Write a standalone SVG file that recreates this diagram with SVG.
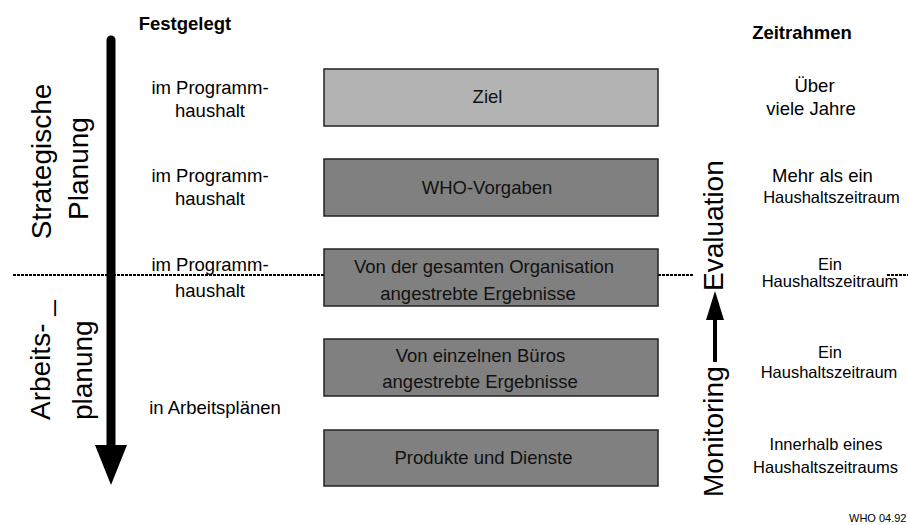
<svg xmlns="http://www.w3.org/2000/svg" width="908" height="525" viewBox="0 0 908 525">
<style>
text{font-family:"Liberation Sans",Arial,sans-serif;fill:#000}
.t{font-size:18.5px;text-anchor:middle}
.s{font-size:16.5px;text-anchor:middle}
.h{font-size:18.5px;font-weight:bold;text-anchor:middle}
.big{font-size:28px}
.box{stroke:#222;stroke-width:1.5}
.light{fill:#b3b3b3}
.dark{fill:#808080}
.bt{font-size:18.5px;text-anchor:middle;fill:#111}
.dash{stroke:#000;stroke-width:1.8;stroke-dasharray:3 1;fill:none}
</style>
<rect width="908" height="525" fill="#fff"/>
<g id="connectors">
<path class="dash" d="M13 275H324M658 275H694M887 275H908"/>
<line x1="111" y1="40" x2="111" y2="447" stroke="#000" stroke-width="9" stroke-linecap="round"/>
<polygon points="95,445 127,445 111,485" fill="#000"/>
<line x1="715" y1="318" x2="715" y2="362" stroke="#000" stroke-width="4"/>
<polygon points="706,320 724,320 715,291" fill="#000"/>
</g>
<g id="headers">
<text class="h" x="185" y="30">Festgelegt</text>
<text class="h" x="802" y="39">Zeitrahmen</text>
</g>
<g id="side-labels">
<text class="big" text-anchor="middle" transform="translate(51,161.5) rotate(-90)">Strategische</text>
<text class="big" text-anchor="middle" transform="translate(88,168.5) rotate(-90)">Planung</text>
<text class="big" transform="translate(50,420) rotate(-90)">Arbeits- _</text>
<text class="big" transform="translate(92,420) rotate(-90)">planung</text>
<text class="big" transform="translate(723,497) rotate(-90)">Monitoring</text>
<text class="big" transform="translate(723,291) rotate(-90)" font-size="29">Evaluation</text>
</g>
<g id="festgelegt-col">
<text class="t" x="210" y="94">im Programm-</text>
<text class="t" x="210" y="117">haushalt</text>
<text class="t" x="210" y="182">im Programm-</text>
<text class="t" x="210" y="205">haushalt</text>
<text class="t" x="210" y="271">im Programm-</text>
<text class="t" x="210" y="297">haushalt</text>
<text class="t" x="215" y="414">in Arbeitsplänen</text>
</g>
<g id="node-ziel">
<rect class="box light" x="324" y="69" width="334" height="57"/>
<text class="bt" x="487.5" y="103">Ziel</text>
</g>
<g id="node-vorgaben">
<rect class="box dark" x="324" y="159" width="334" height="57"/>
<text class="bt" x="487" y="194">WHO-Vorgaben</text>
</g>
<g id="node-org">
<rect class="box dark" x="324" y="249" width="334" height="57"/>
<text class="bt" x="484" y="273">Von der gesamten Organisation</text>
<text class="bt" x="478" y="300">angestrebte Ergebnisse</text>
</g>
<g id="node-bueros">
<rect class="box dark" x="324" y="339" width="334" height="57"/>
<text class="bt" x="480.5" y="362">Von einzelnen Büros</text>
<text class="bt" x="480" y="388">angestrebte Ergebnisse</text>
</g>
<g id="node-produkte">
<rect class="box dark" x="324" y="430" width="334" height="56"/>
<text class="bt" x="483.5" y="464">Produkte und Dienste</text>
</g>
<g id="zeitrahmen-col">
<text class="t" x="814.5" y="92">Über</text>
<text class="t" x="811" y="115">viele Jahre</text>
<text class="t" x="822.5" y="182">Mehr als ein</text>
<text class="s" x="831.5" y="203">Haushaltszeitraum</text>
<text class="s" x="830" y="270">Ein</text>
<text class="s" x="830" y="287">Haushaltszeitraum</text>
<text class="s" x="830" y="358">Ein</text>
<text class="s" x="829" y="378">Haushaltszeitraum</text>
<text class="s" x="826" y="450">Innerhalb eines</text>
<text class="s" x="825.5" y="473">Haushaltszeitraums</text>
<text x="849" y="522" font-size="11">WHO 04.92</text>
</g>
</svg>
